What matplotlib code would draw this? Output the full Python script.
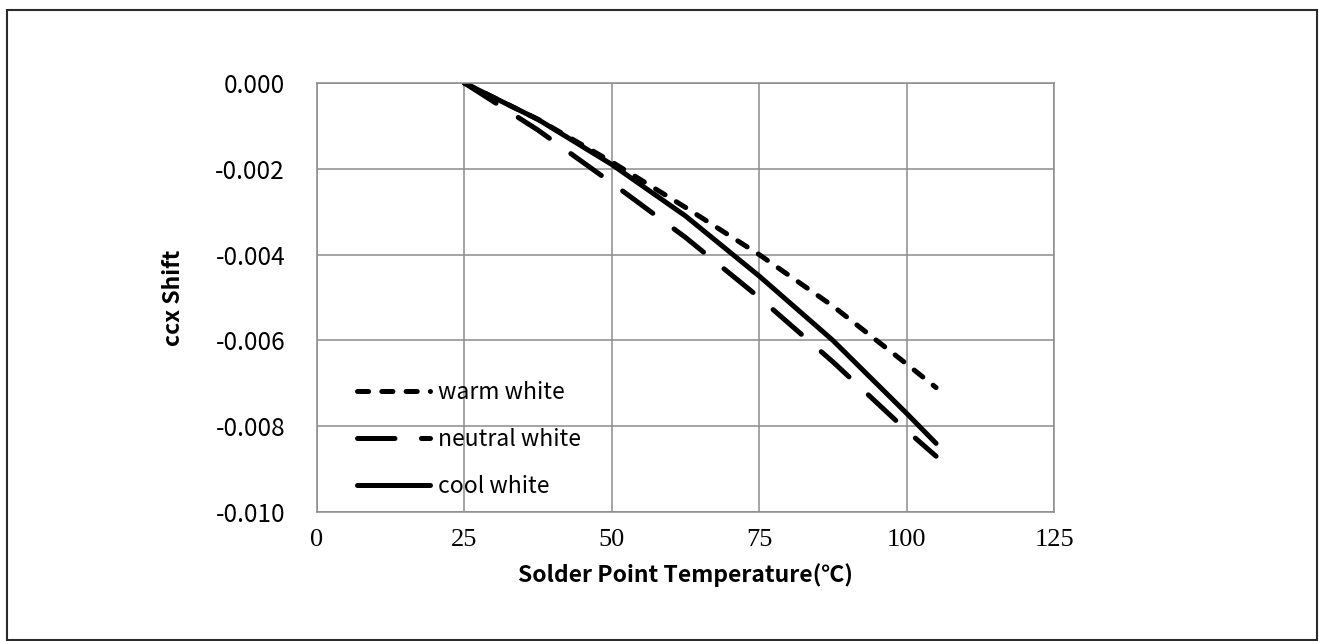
import matplotlib
matplotlib.use("Agg")
import matplotlib.pyplot as plt
from matplotlib.patches import Rectangle

# data
temps = [25, 37.5, 50, 62.5, 75, 87.5, 100, 105]
warm_white = [0, -0.00085, -0.00184, -0.0029, -0.0040, -0.0052, -0.00655, -0.0071]
neutral_white = [0, -0.0011, -0.00233, -0.0036, -0.0050, -0.0065, -0.0081, -0.0087]
cool_white = [0, -0.00085, -0.0019, -0.0031, -0.0045, -0.0060, -0.0077, -0.0084]

x_ticks = [0, 25, 50, 75, 100, 125]
y_ticks = [0.000, -0.002, -0.004, -0.006, -0.008, -0.010]

plt.rcParams['lines.scale_dashes'] = False

W, H = 1319, 641
fig = plt.figure(figsize=(W / 100, H / 100), dpi=100)
ax = fig.add_axes([317 / W, 1 - 512 / H, (1054 - 317) / W, (512 - 83) / H])

lw = 3.6
ax.plot(temps, warm_white, color='black', lw=lw, dashes=(8, 9.5),
        dash_capstyle='round', label='warm white')
ax.plot(temps, neutral_white, color='black', lw=lw, dashes=(27, 19),
        dash_capstyle='round', label='neutral white')
ax.plot(temps, cool_white, color='black', lw=lw, solid_capstyle='round',
        label='cool white')

ax.set_xlim(0, 125)
ax.set_ylim(-0.010, 0.000)
ax.set_xticks(x_ticks)
ax.set_yticks(y_ticks)
ax.set_xticklabels([str(v) for v in x_ticks], family='Liberation Serif', fontsize=19)
ax.set_yticklabels(['0.000' if v == 0 else '%.3f' % v for v in y_ticks],
                   family='Noto Sans CJK JP', fontsize=17.5)
ax.tick_params(axis='both', length=0)
ax.tick_params(axis='y', pad=23)
ax.tick_params(axis='x', pad=12)

ax.grid(True, color='#8c8c8c', lw=1.1)
ax.set_axisbelow(True)
for s in ax.spines.values():
    s.set_color('#8c8c8c')
    s.set_linewidth(1.1)

ax.set_xlabel('Solder Point Temperature(\u2103)', family='Noto Sans CJK JP',
              fontweight='bold', fontsize=16.5, labelpad=9)
ax.set_ylabel('ccx Shift', family='Noto Sans CJK JP', fontweight='bold', fontsize=16.5)
ax.yaxis.set_label_coords((185 - 317) / (1054 - 317), 0.5)

leg = ax.legend(loc='upper left', bbox_to_anchor=(0.054, 0.305), frameon=False,
                prop={'family': 'Noto Sans CJK JP', 'size': 16.5}, handlelength=3.2,
                handletextpad=0.35, labelspacing=1.05, borderpad=0, borderaxespad=0)

# outer chart border
fig.patches.append(Rectangle((7 / W, 1 / H), 1310 / W, 630 / H,
                             transform=fig.transFigure, fill=False,
                             edgecolor='#2b2b2b', lw=1.5))

fig.savefig('out.png', dpi=100)
